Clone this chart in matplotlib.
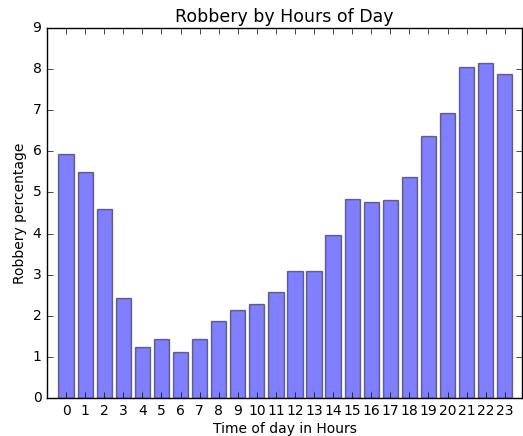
import matplotlib
matplotlib.use("Agg")
import matplotlib.pyplot as plt

horas = list(range(24))
percentual = [5.94, 5.49, 4.59, 2.43, 1.25, 1.43, 1.12, 1.43, 1.87, 2.13, 2.28, 2.57,
              3.09, 3.09, 3.97, 4.83, 4.77, 4.81, 5.38, 6.38, 6.93, 8.04, 8.15, 7.88]

plt.style.use("classic")

fig = plt.figure(figsize=(5.23, 4.36), dpi=100, facecolor="white")
ax = fig.add_axes([0.0899, 0.087, 0.908, 0.849])

ax.bar(horas, percentual, width=0.8, align="center", color="blue", alpha=0.5, edgecolor="black")

ax.set_xticks(horas)
ax.set_xlim(-1, 23.9)
ax.set_ylim(0, 9)
ax.set_xlabel("Time of day in Hours", fontsize=10, labelpad=3)
ax.set_ylabel("Robbery percentage", fontsize=10, labelpad=4)
ax.set_title("Robbery by Hours of Day", fontsize=12.5, pad=4)
ax.tick_params(labelsize=10, pad=4)

fig.savefig("out.png", dpi=100, facecolor="white")
